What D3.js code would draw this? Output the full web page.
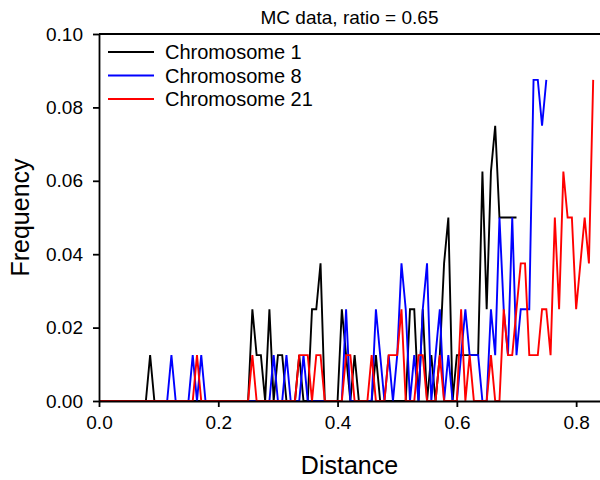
<!DOCTYPE html>
<meta charset="utf-8">
<script src="https://d3js.org/d3.v7.min.js"></script>
<style>
  body { margin: 0; background: white; }
  text { font-family: Arial, "Liberation Sans", sans-serif; fill: black; }
</style>
<div id="chart"></div>
<script>
  // distance step between neighbouring points
  const binWidth = 1 / 140;

  // frequency per distance bin
  const chr1 = [
    0, 0, 0, 0, 0, 0, 0, 0, 0, 0,
    0, 0, .0125, 0, 0, 0, 0, 0, 0, 0,
    0, 0, 0, 0, 0, 0, 0, 0, 0, 0,
    0, 0, 0, 0, 0, 0, .025, .0125, .0125, 0,
    .025, 0, .0125, .0125, 0, 0, 0, .0125, 0, 0,
    .025, .025, .0375, 0, 0, 0, 0, .025, .0125, 0,
    .0125, 0, 0, 0, 0, .0125, 0, 0, 0, 0,
    0, 0, 0, .025, .025, 0, .025, 0, .0125, 0,
    .0125, .0375, .05, 0, .0125, .0125, .0125, .0125, .0125, .0125,
    .0625, .025, .0625, .075, .05, .05, .05, .05, .05
  ];
  const chr8 = [
    0, 0, 0, 0, 0, 0, 0, 0, 0, 0,
    0, 0, 0, 0, 0, 0, 0, .0125, 0, 0,
    0, 0, .0125, 0, .0125, 0, 0, 0, 0, 0,
    0, 0, 0, 0, 0, 0, 0, 0, 0, 0,
    0, .0125, 0, 0, .0125, 0, 0, 0, .0125, 0,
    0, 0, 0, 0, 0, 0, 0, 0, .025, 0,
    0, 0, 0, 0, 0, .025, .0125, 0, .0125, 0,
    .0125, .0375, .025, 0, .0125, 0, .025, .0375, 0, .0125,
    .025, 0, .0125, 0, 0, .0125, .025, .0125, .0125, .0125,
    0, 0, .025, .0125, .05, .025, .0125, .05, .0125, .025,
    .025, .025, .0875, .0875, .075, .0875
  ];
  const chr21 = [
    0, 0, 0, 0, 0, 0, 0, 0, 0, 0,
    0, 0, 0, 0, 0, 0, 0, 0, 0, 0,
    0, 0, 0, .0125, 0, 0, 0, 0, 0, 0,
    0, 0, 0, 0, 0, 0, .0125, 0, 0, 0,
    0, 0, 0, 0, 0, 0, 0, .0125, .0125, .0125,
    0, .0125, .0125, 0, 0, 0, 0, 0, .0125, .0125,
    0, 0, 0, 0, .0125, 0, 0, 0, .0125, .0125,
    .0125, .025, 0, 0, 0, .0125, .0125, 0, 0, 0,
    .0125, 0, 0, 0, 0, .025, 0, .0125, 0, 0,
    0, 0, .0125, 0, 0, .025, .0125, .0125, .025, .0375,
    .0375, .0125, .0125, .0125, .025, .025, .0125, .05, .025, .0625,
    .05, .05, .025, .0375, .05, .0375, .0875
  ];

  const seriesNames = ["Chromosome 1", "Chromosome 8", "Chromosome 21"];
  const seriesColors = ["#000000", "#0000ff", "#ff0000"];
  const seriesValues = [chr1, chr8, chr21];

  const xTicks = [0, 0.2, 0.4, 0.6, 0.8];
  const yTicks = [0, 0.02, 0.04, 0.06, 0.08, 0.10];

  const margin = { top: 34, right: 0, bottom: 79, left: 99 },
    width = 600 - margin.left - margin.right,
    height = 480 - margin.top - margin.bottom;

  const svg = d3.select("#chart")
    .append("svg")
    .attr("width", 600)
    .attr("height", 480);

  const g = svg.append("g")
    .attr("transform", `translate(${margin.left},${margin.top})`);

  const x = d3.scaleLinear().domain([0, 0.84]).range([0, width]);
  const y = d3.scaleLinear().domain([0, 0.1]).range([height, 0]);

  const line = d3.line()
    .x((d, i) => x(i * binWidth))
    .y(d => y(d));

  // the three curves
  seriesValues.forEach((vals, i) => {
    g.append("path")
      .datum(vals)
      .attr("fill", "none")
      .attr("stroke", seriesColors[i])
      .attr("stroke-width", 1.9)
      .attr("d", line);
  });

  // axes on top so the zero runs sit under the frame
  const xAxis = g.append("g")
    .attr("transform", `translate(0,${height})`)
    .call(d3.axisBottom(x).tickValues(xTicks).tickFormat(d3.format(".1f"))
      .tickSize(6).tickPadding(9).tickSizeOuter(0));

  const yAxis = g.append("g")
    .call(d3.axisLeft(y).tickValues(yTicks).tickFormat(d3.format(".2f"))
      .tickSize(6).tickPadding(10).tickSizeOuter(0));

  [xAxis, yAxis].forEach(a => {
    a.selectAll("path, line").attr("stroke", "black").attr("stroke-width", 1.8);
    a.selectAll("text").style("font-size", "19px").attr("fill", "black");
  });

  // top border of the frame
  g.append("line")
    .attr("x1", 0).attr("x2", width)
    .attr("y1", 0).attr("y2", 0)
    .attr("stroke", "black").attr("stroke-width", 1.8);

  // legend
  const legend = g.append("g").attr("transform", "translate(9,18)");
  seriesNames.forEach((name, i) => {
    const row = legend.append("g").attr("transform", `translate(0,${i * 23.5})`);
    row.append("line")
      .attr("x1", 0).attr("x2", 46)
      .attr("y1", 0).attr("y2", 0)
      .attr("stroke", seriesColors[i]).attr("stroke-width", 1.9);
    row.append("text")
      .attr("x", 57).attr("y", 0).attr("dy", "0.35em")
      .style("font-size", "20px")
      .text(name);
  });

  // titles
  svg.append("text")
    .attr("x", margin.left + width / 2).attr("y", 24)
    .attr("text-anchor", "middle")
    .style("font-size", "19px")
    .text("MC data, ratio = 0.65");

  svg.append("text")
    .attr("x", margin.left + width / 2).attr("y", 474)
    .attr("text-anchor", "middle")
    .style("font-size", "25px")
    .text("Distance");

  svg.append("text")
    .attr("transform", `translate(29,${margin.top + height / 2}) rotate(-90)`)
    .attr("text-anchor", "middle")
    .style("font-size", "25px")
    .text("Frequency");
</script>
